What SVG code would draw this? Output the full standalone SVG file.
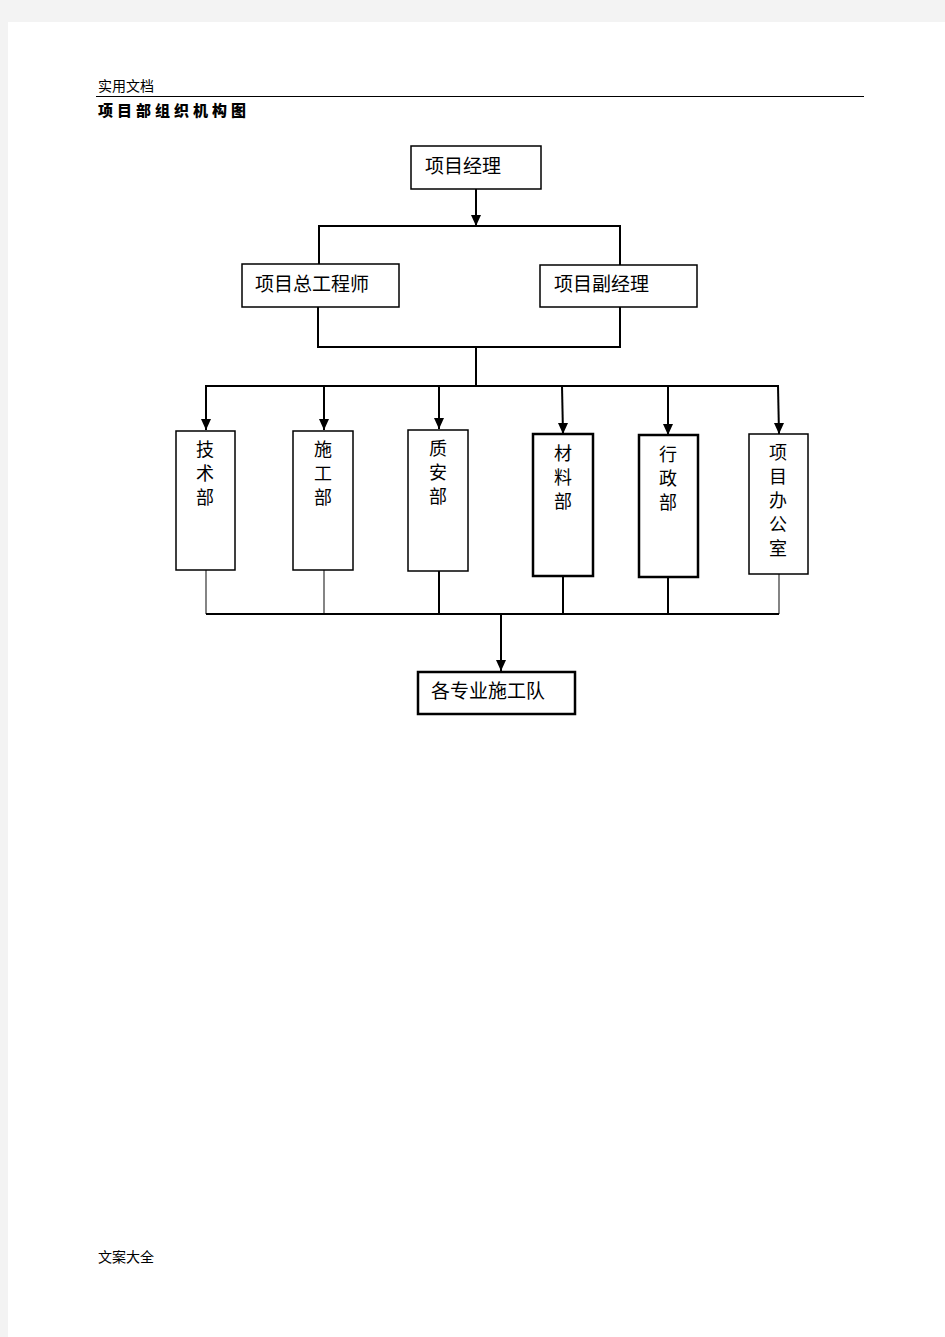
<svg xmlns="http://www.w3.org/2000/svg" width="945" height="1337" viewBox="0 0 945 1337">
<style>
.t{font-family:"Liberation Serif","Noto Sans CJK SC",serif;font-size:19px;fill:#000}
.s{font-family:"Liberation Sans","Noto Sans CJK SC",sans-serif;font-size:14px;fill:#000}
.box{fill:#fff;stroke:#000;stroke-width:1.5}
.boxb{fill:#fff;stroke:#000;stroke-width:2.5}
.ln{fill:none;stroke:#000;stroke-width:2}
.lt{fill:none;stroke:#333;stroke-width:1.2}
.vt{font-family:"Liberation Serif","Noto Sans CJK SC",serif;font-size:18px;fill:#000;text-anchor:middle}
</style>
<defs>
<marker id="ad" markerWidth="10" markerHeight="11" refX="5" refY="11" markerUnits="userSpaceOnUse" viewBox="0 0 10 11">
<path d="M0,0 L10,0 L5,11 Z" fill="#000"/>
</marker>
</defs>
<rect width="945" height="1337" fill="#f3f3f3"/>
<rect x="8" y="22" width="937" height="1315" fill="#fff"/>
<g id="header">
<text class="s" x="98" y="91">实用文档</text>
<line x1="96" y1="96.5" x2="864" y2="96.5" stroke="#000" stroke-width="1"/>
<text x="98" y="116" style="font-family:'Noto Sans CJK SC',sans-serif;font-size:15px;font-weight:900;letter-spacing:4px">项目部组织机构图</text>
</g>
<g id="connectors">
<line class="ln" x1="476" y1="189" x2="476" y2="226" marker-end="url(#ad)"/>
<polyline class="ln" points="319,265 319,226 620,226 620,265"/>
<polyline class="ln" points="318,307 318,347 620,347 620,307"/>
<line class="ln" x1="476" y1="347" x2="476" y2="386"/>
<line class="ln" x1="205" y1="386" x2="779" y2="386"/>
<line class="ln" x1="206" y1="386" x2="206" y2="430" marker-end="url(#ad)"/>
<line class="ln" x1="324" y1="386" x2="324" y2="430" marker-end="url(#ad)"/>
<line class="ln" x1="439" y1="386" x2="439" y2="429" marker-end="url(#ad)"/>
<line class="ln" x1="562" y1="386" x2="563" y2="434" marker-end="url(#ad)"/>
<line class="ln" x1="668" y1="386" x2="668" y2="435" marker-end="url(#ad)"/>
<line class="ln" x1="778" y1="386" x2="779" y2="434" marker-end="url(#ad)"/>
<line class="lt" x1="206" y1="570" x2="206" y2="614"/>
<line class="lt" x1="324" y1="570" x2="324" y2="614"/>
<line class="ln" x1="439" y1="571" x2="439" y2="614"/>
<line class="ln" x1="563" y1="576" x2="563" y2="614"/>
<line class="ln" x1="668" y1="577" x2="668" y2="614"/>
<line class="lt" x1="779" y1="574" x2="779" y2="614"/>
<line class="ln" x1="206" y1="614" x2="779" y2="614"/>
<line class="ln" x1="501" y1="614" x2="501" y2="671" marker-end="url(#ad)"/>
</g>
<g id="n-manager">
<rect class="box" x="411" y="146" width="130" height="43"/>
<text class="t" x="425" y="173">项目经理</text>
</g>
<g id="n-chief-engineer">
<rect class="box" x="242" y="264" width="157" height="43"/>
<text class="t" x="255" y="291">项目总工程师</text>
</g>
<g id="n-deputy-manager">
<rect class="box" x="540" y="265" width="157" height="42"/>
<text class="t" x="554" y="291">项目副经理</text>
</g>
<g id="n-tech">
<rect class="box" x="176" y="431" width="59" height="139"/>
<text class="vt" x="205" y="456">技</text>
<text class="vt" x="205" y="480">术</text>
<text class="vt" x="205" y="504">部</text>
</g>
<g id="n-construction">
<rect class="box" x="293" y="431" width="60" height="139"/>
<text class="vt" x="323" y="456">施</text>
<text class="vt" x="323" y="480">工</text>
<text class="vt" x="323" y="504">部</text>
</g>
<g id="n-quality">
<rect class="box" x="408" y="430" width="60" height="141" stroke-width="2"/>
<text class="vt" x="438" y="455">质</text>
<text class="vt" x="438" y="479">安</text>
<text class="vt" x="438" y="503">部</text>
</g>
<g id="n-material">
<rect class="boxb" x="533" y="434" width="60" height="142"/>
<text class="vt" x="563" y="460">材</text>
<text class="vt" x="563" y="484">料</text>
<text class="vt" x="563" y="508">部</text>
</g>
<g id="n-admin">
<rect class="boxb" x="639" y="435" width="59" height="142"/>
<text class="vt" x="668" y="461">行</text>
<text class="vt" x="668" y="485">政</text>
<text class="vt" x="668" y="509">部</text>
</g>
<g id="n-office">
<rect class="box" x="749" y="434" width="59" height="140"/>
<text class="vt" x="778" y="459">项</text>
<text class="vt" x="778" y="483">目</text>
<text class="vt" x="778" y="507">办</text>
<text class="vt" x="778" y="531">公</text>
<text class="vt" x="778" y="555">室</text>
</g>
<g id="n-teams">
<rect class="boxb" x="418" y="672" width="157" height="42" stroke-width="2"/>
<text class="t" x="431" y="698">各专业施工队</text>
</g>
<g id="footer">
<text class="s" x="98" y="1262">文案大全</text>
</g>
</svg>
